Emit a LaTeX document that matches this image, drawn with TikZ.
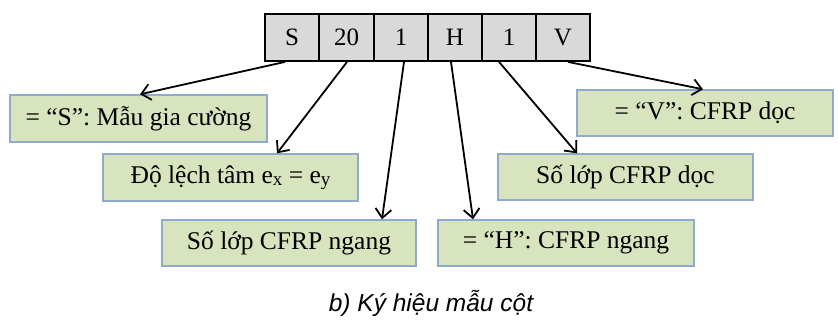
\documentclass[tikz,border=0pt]{standalone}
\usepackage{fontspec}
\setmainfont{Liberation Serif}
\newfontfamily\capfont{Liberation Sans}
\usetikzlibrary{arrows.meta}
\definecolor{cellgray}{HTML}{D9D9D9}
\definecolor{boxgreen}{HTML}{D7E4BD}
\definecolor{boxedge}{HTML}{8FAACC}
\begin{document}
\begin{tikzpicture}[x=1pt,y=-1pt,
  cell/.style={draw=black,line width=1.8pt,fill=cellgray,minimum width=54pt,minimum height=47pt,inner sep=0pt,font=\fontsize{25}{30}\selectfont,anchor=center},
  gbox/.style={draw=boxedge,line width=1.4pt,fill=boxgreen,minimum width=256pt,minimum height=47pt,inner sep=0pt,font=\fontsize{25.5}{30}\selectfont,anchor=center},
  conn/.style={line width=1.8pt,-{Straight Barb[length=9pt,width=16pt,line width=1.8pt]}}]
\useasboundingbox (0,0) rectangle (838,322);
% code cells
\node[cell] (c1) at (292,37.5) {S};
\node[cell] (c2) at (346.5,37.5) {20};
\node[cell] (c3) at (401,37.5) {1};
\node[cell] (c4) at (455,37.5) {H};
\node[cell] (c5) at (509,37.5) {1};
\node[cell] (c6) at (563,37.5) {V};
% boxes
\node[gbox,minimum width=257pt] (b1) at (138.5,118.5) {= “S”: Mẫu gia cường};
\node[gbox,minimum width=255pt] (b2) at (230.5,177.5) {Độ lệch tâm e{\fontsize{19}{20}\selectfont\raisebox{-0.3ex}{x}} = e{\fontsize{19}{20}\selectfont\raisebox{-0.3ex}{y}}};
\node[gbox,minimum width=254pt,minimum height=46pt] (b3) at (289,243) {Số lớp CFRP ngang};
\node[gbox,minimum width=256pt,minimum height=46pt] (b4) at (566,243) {= “H”: CFRP ngang};
\node[gbox,minimum width=255pt,minimum height=46pt] (b5) at (625.5,177) {Số lớp CFRP dọc};
\node[gbox,minimum width=256pt,minimum height=46pt] (b6) at (705,113) {= “V”: CFRP dọc};
% connectors
\draw[conn] ([xshift=-7pt]c1.south) -- ([xshift=1.5pt]b1.north);
\draw[conn] ([xshift=0.5pt]c2.south) -- ([xshift=46.5pt]b2.north);
\draw[conn] ([xshift=3pt]c3.south) -- ([xshift=93pt]b3.north);
\draw[conn] ([xshift=-4pt]c4.south) -- ([xshift=-93pt]b4.north);
\draw[conn] ([xshift=-10pt]c5.south) -- ([xshift=-48.5pt]b5.north);
\draw[conn] ([xshift=5pt]c6.south) -- ([xshift=-2pt]b6.north);
% caption
\node[font=\capfont\itshape\fontsize{24.5}{28}\selectfont] (cap) at (431,303) {b) Ký hiệu mẫu cột};
\end{tikzpicture}
\end{document}
